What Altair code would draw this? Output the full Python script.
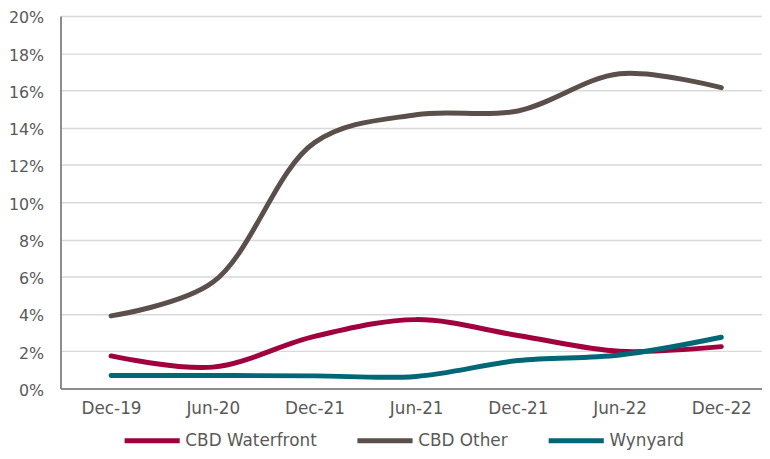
import altair as alt
import pandas as pd

labels = ["Dec-19", "Jun-20", "Dec-21", "Jun-21", "Dec-21", "Jun-22", "Dec-22"]
series_names = ["CBD Waterfront", "CBD Other", "Wynyard"]
cbd_waterfront = [0.0175, 0.0115, 0.028, 0.037, 0.0285, 0.020, 0.0225]
cbd_other = [0.039, 0.057, 0.132, 0.147, 0.149, 0.169, 0.1615]
wynyard = [0.0070, 0.0070, 0.0068, 0.0065, 0.0150, 0.0180, 0.0275]
colors = ["#A1003F", "#5B4F4C", "#006777"]

rows = []
for name, vals in zip(series_names, [cbd_waterfront, cbd_other, wynyard]):
    for i, v in enumerate(vals):
        rows.append({"idx": i, "label": labels[i], "series": name, "value": v})
df = pd.DataFrame(rows)

label_expr = "[" + ",".join(f"'{l}'" for l in labels) + "][datum.value]"

chart = alt.Chart(df).mark_line(
    strokeWidth=5, strokeCap="round", interpolate="catmull-rom"
).encode(
    x=alt.X("idx:Q", scale=alt.Scale(domain=[-0.497, 6.4], nice=False, zero=False),
            axis=alt.Axis(values=list(range(len(labels))), labelExpr=label_expr,
                          title=None, grid=False, ticks=False, domain=True,
                          domainColor="#8C8C8C", domainWidth=2,
                          labelFont="DejaVu Sans", labelFontSize=17, labelColor="#595959",
                          labelPadding=12)),
    y=alt.Y("value:Q", scale=alt.Scale(domain=[0, 0.2], nice=False),
            axis=alt.Axis(values=[i / 100 for i in range(0, 21, 2)], format=".0%",
                          title=None, grid=True, gridColor="#D9D9D9", gridWidth=1.5,
                          ticks=False, domainColor="#8C8C8C", domainWidth=2,
                          labelFont="DejaVu Sans", labelFontSize=16, labelColor="#595959",
                          labelPadding=17, labelOffset=2)),
    color=alt.Color("series:N", scale=alt.Scale(domain=series_names, range=colors),
                    sort=series_names,
                    legend=alt.Legend(title=None, orient="none", direction="horizontal",
                                      legendX=62, legendY=398,
                                      symbolType="stroke", symbolSize=3100,
                                      symbolStrokeWidth=5, labelOffset=3,
                                      labelFont="DejaVu Sans", labelFontSize=17,
                                      labelColor="#595959", columnPadding=30,
                                      labelLimit=300)),
    detail="series:N",
).properties(
    width=708, height=376,
    autosize=alt.AutoSizeParams(type="none"),
    padding={"left": 53, "top": 6, "right": 0, "bottom": 61},
).configure_view(stroke=None)

chart.save("out.html", embed_options={"renderer": "svg", "actions": False})
